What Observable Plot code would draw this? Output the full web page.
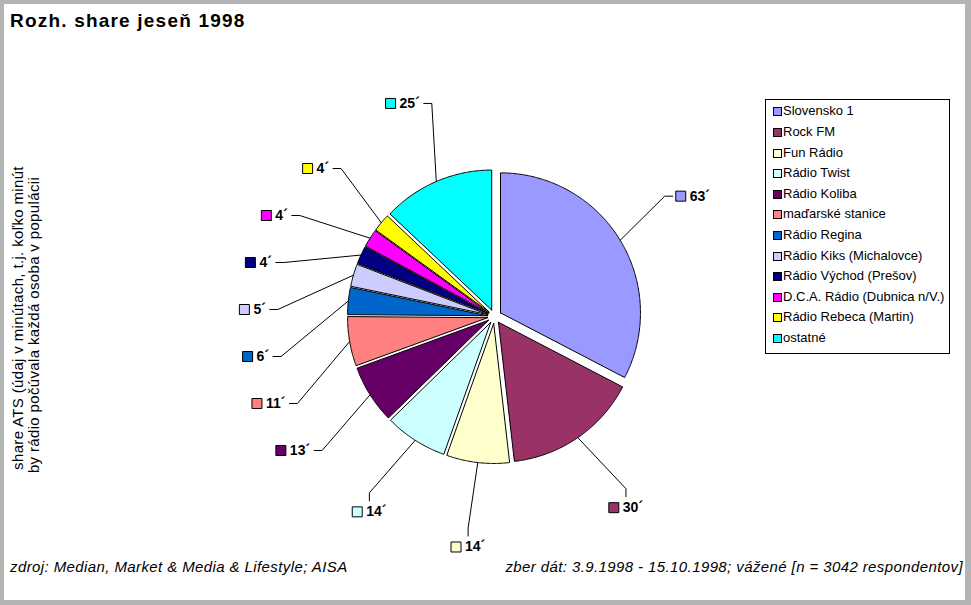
<!DOCTYPE html>
<html>
<head>
<meta charset="utf-8">
<script src="https://cdn.jsdelivr.net/npm/d3@7"></script>
<script src="https://cdn.jsdelivr.net/npm/@observablehq/plot@0.6"></script>
<style>
  html, body { margin: 0; padding: 0; background: #fff; }
  #chart { position: relative; width: 971px; height: 605px; background: #b4b4b4; overflow: hidden;
           font-family: "Liberation Sans", Arial, sans-serif; color: #000; }
  #inner { position: absolute; left: 4px; top: 4px; width: 961px; height: 596px; background: #fff; }
  #plot { position: absolute; left: 0; top: 0; }
  .t { position: absolute; white-space: nowrap; line-height: 1; }
  #title { left: 10px; top: 11px; font-size: 19px; font-weight: bold; letter-spacing: 1.2px; }
  .foot { top: 559px; font-size: 15px; font-style: italic; letter-spacing: 0.4px; }
  #footL { left: 10px; }
  #footR { right: 8px; }
  .ylab { font-size: 15px; letter-spacing: 0.35px; transform: translate(-50%, -50%) rotate(-90deg); }
  #legend { position: absolute; left: 765px; top: 99px; width: 183px; height: 253px; border: 1px solid #000; background: #fff; }
  .lrow { position: absolute; left: 0; height: 14px; font-size: 13px; line-height: 14px; white-space: nowrap; }
  .lsw { position: absolute; left: 7px; top: 3px; width: 7px; height: 7px; border: 1px solid #000; }
  .ltx { position: absolute; left: 17px; top: 0; }
</style>
</head>
<body>
<div id="chart">
  <div id="inner"></div>
  <div id="plot"></div>
  <div class="t" id="title">Rozh. share jeseň 1998</div>
  <div class="t ylab" id="ylab1" style="left:17px; top:318px;">share ATS (údaj v minútach, t.j. koľko minút</div>
  <div class="t ylab" id="ylab2" style="left:33px; top:325px;">by rádio počúvala každá osoba v populácii</div>
  <div class="t foot" id="footL">zdroj: Median, Market &amp; Media &amp; Lifestyle; AISA</div>
  <div class="t foot" id="footR">zber dát: 3.9.1998 - 15.10.1998; vážené [n = 3042 respondentov]</div>
  <div id="legend"></div>
</div>
<script>
// ---- data ----
const stations = [
  "Slovensko 1", "Rock FM", "Fun Rádio", "Rádio Twist", "Rádio Koliba",
  "maďarské stanice", "Rádio Regina", "Rádio Kiks (Michalovce)",
  "Rádio Východ (Prešov)", "D.C.A. Rádio (Dubnica n/V.)",
  "Rádio Rebeca (Martin)", "ostatné"
];
const shareMinutes = [63, 30, 14, 14, 13, 11, 6, 5, 4, 4, 4, 25];
const sliceColors = [
  "#9999ff", "#993366", "#ffffcc", "#ccffff", "#660066", "#ff8080",
  "#0066cc", "#ccccff", "#000080", "#ff00ff", "#ffff00", "#00ffff"
];
const valueSuffix = "´";

// ---- layout ----
const W = 971, H = 605;
const CX = 494, CY = 316;        // pie centre in px
const R = 140;                   // pie radius
const EXPLODE = 7;               // slice explosion
const LABEL_R = 232;             // label ring radius
const GAP = 47;                  // min vertical gap between stacked labels
const LABEL_FONT = 14;
const FONT = '"Liberation Sans", Arial, sans-serif';

const arcs = d3.pie().sort(null).value(d => d)(shareMinutes);
const slices = arcs.map((a, i) => {
  const mid = (a.startAngle + a.endAngle) / 2;
  const ox = EXPLODE * Math.sin(mid), oy = -EXPLODE * Math.cos(mid);
  const pts = [{x: ox, y: oy}];
  const n = Math.max(2, Math.ceil((a.endAngle - a.startAngle) / (Math.PI / 360)));
  for (let k = 0; k <= n; k++) {
    const t = a.startAngle + (a.endAngle - a.startAngle) * k / n;
    pts.push({x: ox + R * Math.sin(t), y: oy - R * Math.cos(t)});
  }
  pts.push({x: ox, y: oy});
  return {i, name: stations[i], value: shareMinutes[i], color: sliceColors[i], mid, ox, oy, pts};
});

const ctx = document.createElement("canvas").getContext("2d");
ctx.font = `bold ${LABEL_FONT}px "Liberation Sans"`;
const labels = slices.map(s => {
  const text = s.value + valueSuffix;
  const tw = ctx.measureText(text).width;
  return {
    id: s.i, color: s.color, text, mid: s.mid,
    bw: 10 + 4 + tw,
    lx: LABEL_R * Math.sin(s.mid), ly: -LABEL_R * Math.cos(s.mid),
    px: s.ox + R * Math.sin(s.mid), py: s.oy - R * Math.cos(s.mid)
  };
});
// stack the left-hand labels so they do not collide
const left = labels.filter(l => Math.sin(l.mid) < -0.3).sort((a, b) => a.ly - b.ly);
for (let k = 1; k < left.length; k++) {
  const need = left[k - 1].ly + GAP;
  if (left[k].ly < need) {
    left[k].ly = need;
    left[k].lx = -Math.sqrt(Math.max(0, (LABEL_R + 10) ** 2 - need * need));
  }
}
const leaders = [];
labels.forEach(l => {
  const boxL = l.lx - l.bw / 2;
  l.mx = boxL + 5;
  l.tx = boxL + 14;
  const dx = l.lx - l.px, dy = l.ly - l.py;
  let p;
  if (dy > 0 && Math.abs(dy) > 1.4 * Math.abs(dx)) {
    const top = l.ly - 7;
    p = [{x: l.lx, y: top - 4}, {x: l.lx, y: top - 12}];
  } else if (dx < 0) {
    const ax = l.lx + l.bw / 2 + 4;
    p = [{x: ax, y: l.ly}, {x: ax + 8, y: l.ly}];
  } else {
    const ax = boxL - 3;
    p = [{x: ax, y: l.ly}, {x: ax - 8, y: l.ly}];
  }
  p.push({x: l.px, y: l.py});
  p.forEach(q => leaders.push({id: l.id, x: q.x, y: q.y}));
});

const svg = Plot.plot({
  width: W, height: H,
  marginTop: 0, marginRight: 0, marginBottom: 0, marginLeft: 0,
  x: {domain: [-CX, W - CX], range: [0, W], axis: null},
  y: {domain: [-CY, H - CY], range: [0, H], axis: null},
  style: {background: "transparent", overflow: "visible"},
  marks: [
    ...slices.map(s => Plot.line(s.pts, {x: "x", y: "y", fill: s.color, stroke: "#000", strokeWidth: 1, strokeLinejoin: "round"})),
    Plot.line(leaders, {x: "x", y: "y", z: "id", stroke: "#000", strokeWidth: 1, strokeLinejoin: "miter", curve: "linear"}),
    Plot.dot(labels, {x: "mx", y: "ly", symbol: "square", r: 10 / Math.sqrt(Math.PI), fill: d => d.color, stroke: "#000", strokeWidth: 1}),
    Plot.text(labels, {x: "tx", y: "ly", text: "text", textAnchor: "start", fontWeight: "bold", fontSize: LABEL_FONT, fontFamily: FONT, fill: "#000"})
  ]
});
document.getElementById("plot").appendChild(svg);

// legend
const legend = document.getElementById("legend");
stations.forEach((name, i) => {
  const row = document.createElement("div");
  row.className = "lrow";
  row.style.top = (4.3 + 20.6 * i) + "px";
  const sw = document.createElement("div");
  sw.className = "lsw";
  sw.style.background = sliceColors[i];
  const tx = document.createElement("div");
  tx.className = "ltx";
  tx.textContent = name;
  row.appendChild(sw); row.appendChild(tx);
  legend.appendChild(row);
});
</script>
</body>
</html>
